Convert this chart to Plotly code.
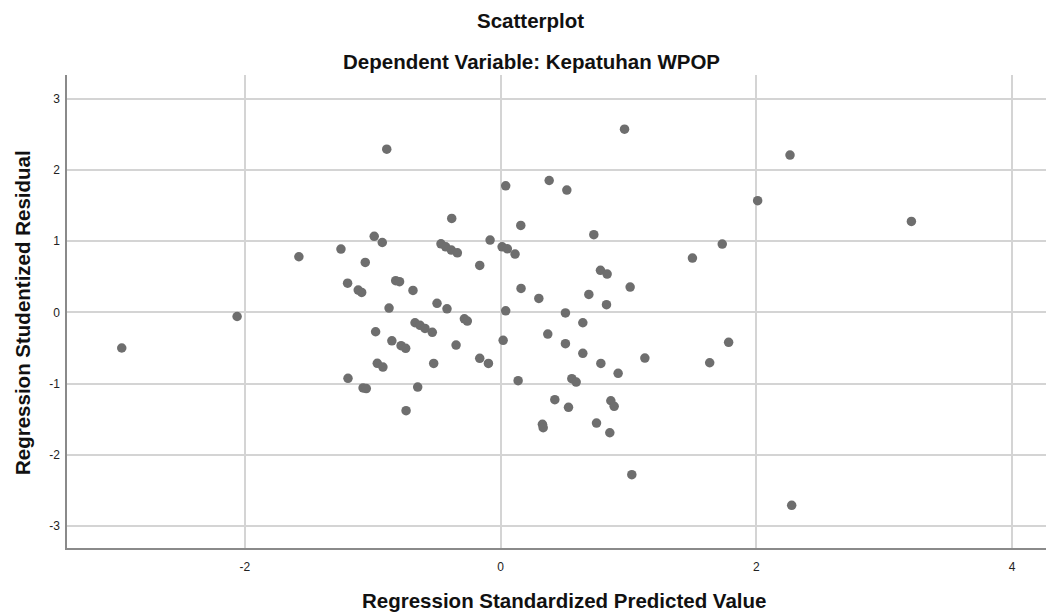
import plotly.graph_objects as go

# Regression Standardized Predicted Value (x) and Studentized Residual (y)
pred = [-0.89, -0.988, -0.925, -1.248, -1.577, -1.058, -1.196, -1.113, -1.086, -0.872,
        -2.06, 0.969, 0.04, 0.38, 0.518, -0.382, 0.158, 0.729, -0.466, -0.429,
        -0.385, -0.338, -0.082, 0.012, 0.053, 0.113, -0.163, 1.50, -0.82, -0.79,
        -0.685, 0.16, 0.781, 0.833, 1.013, 0.69, 0.299, -0.497, -0.419, 0.04,
        0.507, 0.828, 2.263, 2.01, 3.212, 1.733, -2.962, -0.977, -0.85, -0.964,
        -0.92, -1.193, -1.075, -1.05, -0.669, -0.63, -0.591, -0.534, -0.283, -0.26,
        -0.778, -0.742, -0.348, 0.02, 0.369, 0.507, 0.643, 0.643, 0.784, 0.919,
        1.128, 1.635, -0.523, -0.163, -0.095, -0.648, -0.739, 0.137, 0.557, 0.591,
        0.424, 0.531, 0.862, 0.888, 0.327, 0.333, 0.75, 0.854, 1.026, 1.783,
        2.276]
resid = [2.29, 1.066, 0.98, 0.888, 0.78, 0.70, 0.41, 0.313, 0.28, 0.06,
         -0.058, 2.57, 1.776, 1.85, 1.715, 1.318, 1.22, 1.089, 0.962, 0.92,
         0.874, 0.836, 1.014, 0.92, 0.892, 0.818, 0.659, 0.762, 0.445, 0.43,
         0.308, 0.336, 0.589, 0.537, 0.355, 0.252, 0.196, 0.126, 0.05, 0.022,
         -0.008, 0.107, 2.206, 1.566, 1.276, 0.958, -0.50, -0.272, -0.40, -0.715,
         -0.767, -0.926, -1.06, -1.07, -0.146, -0.182, -0.225, -0.28, -0.09, -0.122,
         -0.468, -0.505, -0.459, -0.393, -0.304, -0.44, -0.146, -0.575, -0.716, -0.856,
         -0.641, -0.707, -0.716, -0.645, -0.716, -1.048, -1.38, -0.959, -0.931, -0.978,
         -1.225, -1.333, -1.24, -1.318, -1.571, -1.618, -1.553, -1.689, -2.278, -0.42,
         -2.707]

x_ticks = [-2, 0, 2, 4]
y_ticks = [-3, -2, -1, 0, 1, 2, 3]

title_text = "Scatterplot"
subtitle_text = "Dependent Variable: Kepatuhan WPOP"
x_title = "Regression Standardized Predicted Value"
y_title = "Regression Studentized Residual"

FONT = "Liberation Sans, Arial, sans-serif"
OFF = 8  # default page body margin
W, H = 1054 - OFF, 614 - OFF
ML, MR, MT, MB = 67 - OFF, 6, 75 - OFF, 66
PW, PH = W - ML - MR, H - MT - MB


def py(page_y):
    return (H - MB - (page_y - OFF)) / PH


def px(page_x):
    return ((page_x - OFF) - ML) / PW


fig = go.Figure()
fig.add_trace(go.Scatter(
    x=pred, y=resid, mode="markers",
    marker=dict(size=9.5, color="#6e6e6e", line=dict(width=0)),
    showlegend=False, hoverinfo="x+y",
))

title_font = dict(size=20.5, color="#111111", family=FONT)
fig.update_layout(
    width=W, height=H,
    margin=dict(l=ML, r=MR, t=MT, b=MB, autoexpand=False),
    paper_bgcolor="white", plot_bgcolor="white",
    font=dict(family=FONT, color="#222222"),
    annotations=[
        dict(text="<b>" + title_text + "</b>", xref="paper", yref="paper",
             x=px(530), y=py(20.5), xanchor="center", yanchor="middle",
             showarrow=False, font=title_font),
        dict(text="<b>" + subtitle_text + "</b>", xref="paper", yref="paper",
             x=px(531), y=py(62), xanchor="center", yanchor="middle",
             showarrow=False, font=title_font),
        dict(text="<b>" + x_title + "</b>", xref="paper", yref="paper",
             x=px(564), y=py(600), xanchor="center", yanchor="middle",
             showarrow=False, font=title_font),
        dict(text="<b>" + y_title + "</b>", xref="paper", yref="paper",
             x=px(22), y=py(313), xanchor="center", yanchor="middle",
             textangle=-90, showarrow=False, font=title_font),
    ],
)

fig.update_xaxes(
    range=[-3.39, 4.28], tickvals=x_ticks, ticktext=[str(v) for v in x_ticks],
    showgrid=True, gridcolor="#d4d4d4", gridwidth=1.5, automargin=False,
    zeroline=False, showline=True, linecolor="#8a8a8a", linewidth=1.5,
    ticks="outside", ticklen=7, tickcolor="rgba(0,0,0,0)",
    tickfont=dict(size=12, color="#222222"),
)
fig.update_yaxes(
    range=[-3.306, 3.33], tickvals=y_ticks, ticktext=[str(v) for v in y_ticks],
    showgrid=True, gridcolor="#d4d4d4", gridwidth=1.5, automargin=False,
    zeroline=False, showline=True, linecolor="#8a8a8a", linewidth=1.5,
    ticks="outside", ticklen=3, tickcolor="rgba(0,0,0,0)",
    tickfont=dict(size=12, color="#222222"),
)

fig.write_html("out.html")
